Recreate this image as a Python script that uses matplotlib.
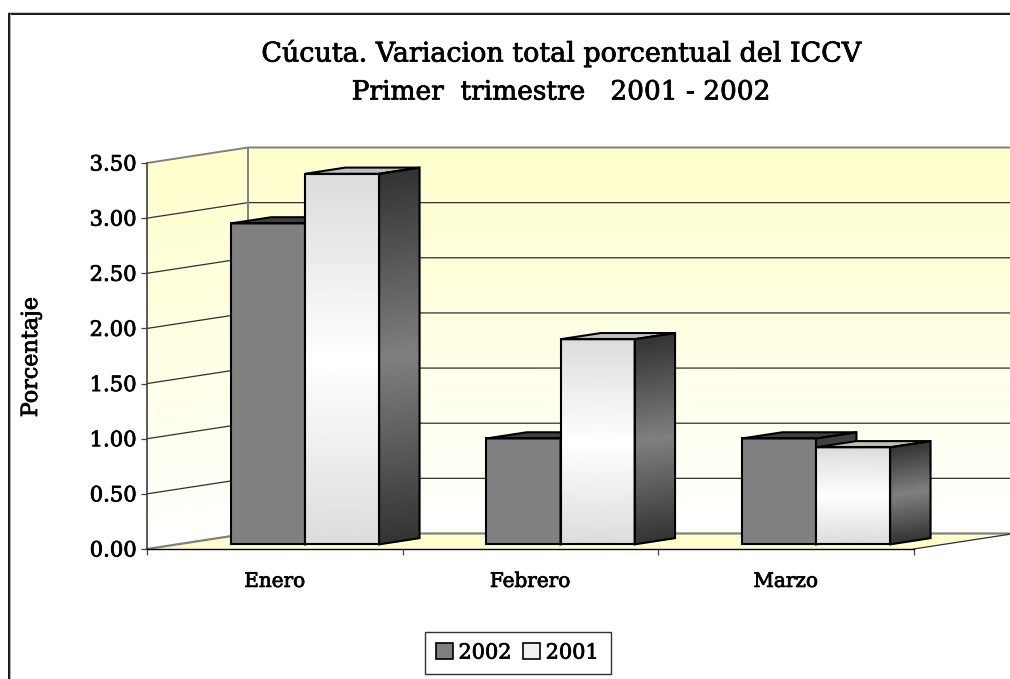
import numpy as np
import matplotlib
matplotlib.use("Agg")
import matplotlib.pyplot as plt
import matplotlib.patheffects as pe
from matplotlib.colors import LinearSegmentedColormap
from matplotlib.patches import Polygon, Patch, Rectangle
from matplotlib.transforms import IdentityTransform

categories = ["Enero", "Febrero", "Marzo"]
series_2002 = [2.91, 0.96, 0.96]
series_2001 = [3.36, 1.86, 0.88]
series_names = ["2002", "2001"]
y_ticks = [0, 0.5, 1, 1.5, 2, 2.5, 3, 3.5]
title_lines = ["Cúcuta. Variacion total porcentual del ICCV", "Primer  trimestre   2001 - 2002"]
y_label = "Porcentaje"

W, H = 1010, 679
FONT = "DejaVu Serif"
STROKE = [pe.withStroke(linewidth=0.55, foreground="black")]
DX, DY = 101, 15.5
fig = plt.figure(figsize=(W / 100, H / 100), dpi=100, facecolor="white")
ax = fig.add_axes([147 / W, (H - 549) / H, 766.5 / W, 386 / H])
ax.set_xlim(0, 3)
ax.set_ylim(0, 3.5)
ax.patch.set_visible(False)
ax.autoscale(False)
ID = IdentityTransform()


def project(x, y, d):
    p = ax.transData.transform(np.column_stack([x, y]).astype(float))
    return p + np.array([DX * d, DY * d])


wall_cm = LinearSegmentedColormap.from_list("wall", ["#FFFFFF", "#FFFFCC"])
front_cm = LinearSegmentedColormap.from_list("front", ["#DCDCDC", "#FFFFFF", "#DCDCDC"])
side_cm = LinearSegmentedColormap.from_list("side", ["#333333", "#808080", "#333333"])


def grad_face(corners, cmap, zorder):
    """corners: bottom-left, bottom-right, top-right, top-left in display px."""
    (bl, br, tr, tl) = corners
    t = np.linspace(0, 1, 9)
    X = np.column_stack([bl[0] + (tl[0] - bl[0]) * t, br[0] + (tr[0] - br[0]) * t])
    Y = np.column_stack([bl[1] + (tl[1] - bl[1]) * t, br[1] + (tr[1] - br[1]) * t])
    C = np.column_stack([t, t])
    ax.pcolormesh(X, Y, C, shading="gouraud", cmap=cmap, vmin=0, vmax=1,
                  transform=ID, zorder=zorder, clip_on=False)


def poly(corners, zorder, fc="none", ec="none", lw=0):
    ax.add_patch(Polygon(corners, closed=True, facecolor=fc, edgecolor=ec, linewidth=lw,
                         transform=ID, zorder=zorder, clip_on=False, joinstyle="miter"))


ymax = y_ticks[-1]
xmax = len(categories)
# back wall
bl, br = project([0, xmax], [0, 0], 1)
tl, tr = project([0, xmax], [ymax, ymax], 1)
grad_face((bl, br, tr, tl), wall_cm, 1)
# left wall
f0, ft = project([0, 0], [0, ymax], 0)
grad_face((f0, bl, tl, ft), wall_cm, 1)
# floor
fr = project([xmax], [0], 0)[0]
poly([f0, fr, br, bl], 1.5, fc="#FFFFCC")
# gridlines
for v in y_ticks[1:-1]:
    p0 = project([0], [v], 0)[0]
    p1 = project([0], [v], 1)[0]
    p2 = project([xmax], [v], 1)[0]
    ax.plot([p0[0], p1[0], p2[0]], [p0[1], p1[1], p2[1]], color="#303030", lw=0.9,
            transform=ID, zorder=2, clip_on=False, solid_joinstyle="miter")
# wall outline
ax.plot([ft[0], tl[0], tr[0]], [ft[1], tl[1], tr[1]], color="#808080", lw=1.4, transform=ID, zorder=2, clip_on=False)
ax.plot([tl[0], bl[0]], [tl[1], bl[1]], color="#808080", lw=1.4, transform=ID, zorder=2, clip_on=False)
ax.plot([f0[0], bl[0], br[0]], [f0[1], bl[1], br[1]], color="#808080", lw=1.6, transform=ID, zorder=2, clip_on=False)
ax.plot([fr[0], br[0]], [fr[1], br[1]], color="#303030", lw=0.9, transform=ID, zorder=2, clip_on=False)

# bars
BAR_W = 0.29
D0, D1 = 0.3, 0.7
EC = "#000000"
LW = 1.5
z = 3.0
for i in range(len(categories)):
    for j, vals in enumerate([series_2002, series_2001]):
        v = vals[i]
        x0 = i + 0.5 - BAR_W + j * BAR_W
        x1 = x0 + BAR_W
        fbl, fbr = project([x0, x1], [0, 0], D0)
        ftl, ftr = project([x0, x1], [v, v], D0)
        bbr = project([x1], [0], D1)[0]
        btl, btr = project([x0, x1], [v, v], D1)
        if j == 0:
            poly([fbl, fbr, ftr, ftl], z, fc="#808080")
            poly([fbr, bbr, btr, ftr], z, fc="#404040")
            poly([ftl, ftr, btr, btl], z, fc="#404040")
        else:
            grad_face((fbl, fbr, ftr, ftl), front_cm, z)
            grad_face((fbr, bbr, btr, ftr), side_cm, z)
            poly([ftl, ftr, btr, btl], z, fc="#C0C0C0")
        poly([fbl, fbr, ftr, ftl], z + 0.1, ec=EC, lw=LW)
        poly([fbr, bbr, btr, ftr], z + 0.1, ec=EC, lw=LW)
        poly([ftl, ftr, btr, btl], z + 0.1, ec=EC, lw=LW)
        z += 0.2

# axes
for s in ["top", "right"]:
    ax.spines[s].set_visible(False)
ax.spines["left"].set_color("#404040")
ax.spines["left"].set_linewidth(1.2)
ax.spines["bottom"].set_color("#000000")
ax.spines["bottom"].set_linewidth(1.0)
for s in ax.spines.values():
    s.set_zorder(2.5)
ax.set_yticks(y_ticks)
ax.set_yticklabels([f"{v:.2f}" for v in y_ticks], fontfamily=FONT, fontsize=15.2, color="black", path_effects=STROKE)
ax.set_xticks(range(len(categories) + 1))
ax.set_xticklabels([""] * (len(categories) + 1))
ax.set_xticks([i + 0.5 for i in range(len(categories))], minor=True)
ax.set_xticklabels(categories, minor=True, fontfamily=FONT, fontsize=14.4, color="black", path_effects=STROKE)
ax.tick_params(axis="x", which="major", length=4.5, width=0.9, color="#404040")
ax.tick_params(axis="x", which="minor", length=0, pad=16.5)
ax.tick_params(axis="y", length=4.5, width=0.9, color="#404040", pad=3)

fig.text(31 / W, 1 - 357 / H, y_label, rotation=90, ha="center", va="center",
         family=FONT, fontsize=16, color="black", path_effects=STROKE)
fig.text(561 / W, 1 - 53 / H, title_lines[0], ha="center", va="center", family=FONT, fontsize=19.4, color="black", path_effects=STROKE)
fig.text(561 / W, 1 - 92 / H, title_lines[1], ha="center", va="center", family=FONT, fontsize=19.0, color="black", path_effects=STROKE)

# outer frame
fig.add_artist(Rectangle((8.5 / W, -0.05), 1.1, 1 - 13.5 / H + 0.05, transform=fig.transFigure,
                         facecolor="none", edgecolor="black", linewidth=1.3, clip_on=True))
fig.add_artist(plt.Line2D([10 / W, 10 / W], [0, 1 - 14 / H], color="#B0B0B0", lw=0.8))
fig.add_artist(plt.Line2D([8 / W, 1], [1 - 12 / H, 1 - 12 / H], color="#C8C8C8", lw=0.8))

# legend
handles = [Patch(facecolor="#808080", edgecolor="black", linewidth=1.2, label=series_names[0]),
           Patch(facecolor="#F0F0F0", edgecolor="black", linewidth=1.2, label=series_names[1])]
leg = fig.legend(handles=handles, ncol=2, loc="center", bbox_to_anchor=(517.5 / W, 1 - 653 / H),
                 prop={"family": FONT, "size": 15}, fancybox=False, framealpha=1, edgecolor="#303030",
                 handlelength=0.8, handleheight=0.8, handletextpad=0.28, columnspacing=0.55,
                 borderpad=0.55, borderaxespad=0)
for t in leg.get_texts():
    t.set_path_effects(STROKE)

fig.savefig("out.png", dpi=100)
